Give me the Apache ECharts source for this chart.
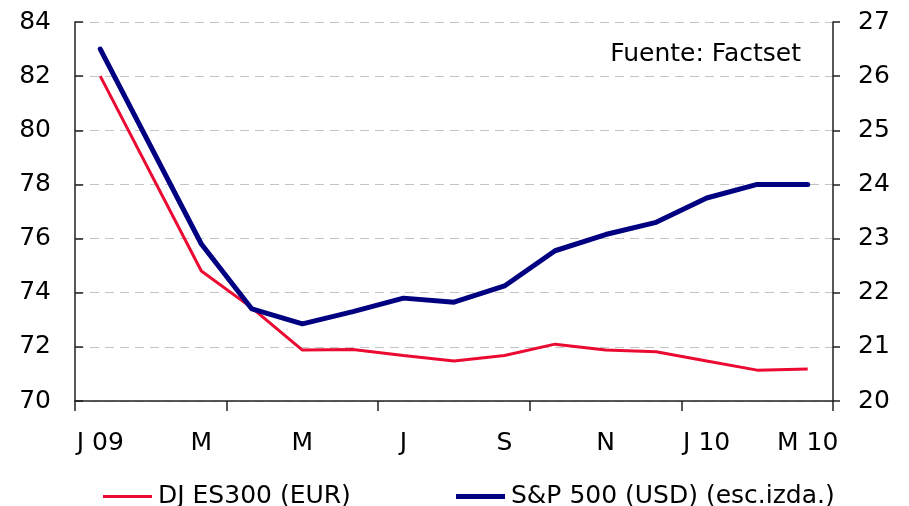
<!DOCTYPE html>
<html lang="es">
<head>
<meta charset="UTF-8">
<title>DJ ES300 vs S&amp;P 500</title>
<script src="https://cdn.jsdelivr.net/npm/echarts@6/dist/echarts.min.js"></script>
<style>
  html, body { margin: 0; padding: 0; background: #fff; }
  #chart { width: 909px; height: 506px; }
</style>
</head>
<body>
<div id="chart"></div>
<script>
// meses ene-09 .. mar-10
var months = ['2009-01','2009-02','2009-03','2009-04','2009-05','2009-06','2009-07','2009-08',
              '2009-09','2009-10','2009-11','2009-12','2010-01','2010-02','2010-03'];
var monthLabels = ['J 09','','M','','M','','J','','S','','N','','J 10','','M 10'];

// S&P 500 (USD) - escala izquierda
var sp500 = [83.0, null, 75.8, 73.4, 72.85, 73.3, 73.8, 73.65, 74.25, 75.55, 76.15, 76.6, 77.5, 78.0, 78.0];
// DJ ES300 (EUR) - escala derecha
var djes300 = [26.0, null, 22.4, 21.72, 20.94, 20.95, 20.84, 20.74, 20.84, 21.05, 20.94, 20.91, 20.74, 20.57, 20.59];

var leftTicks = { min: 70, max: 84, interval: 2 };
var rightTicks = { min: 20, max: 27, interval: 1 };

var FONT = 'DejaVu Sans';
var RED = '#ea0a32', NAVY = '#000080';
var chart = echarts.init(document.getElementById('chart'));

var option = {
  animation: false,
  textStyle: { fontFamily: FONT },
  grid: { left: 75, right: 76, top: 22, bottom: 105, containLabel: false },
  legend: [
    {
      data: ['DJ ES300 (EUR)'],
      left: 98, top: 479,
      icon: 'rect', itemWidth: 49, itemHeight: 3,
      textStyle: { fontFamily: FONT, fontSize: 25, color: '#000', padding: [0, 0, 0, 1] }
    },
    {
      data: ['S&P 500 (USD) (esc.izda.)'],
      left: 451, top: 479,
      icon: 'rect', itemWidth: 49, itemHeight: 5,
      textStyle: { fontFamily: FONT, fontSize: 25, color: '#000', padding: [0, 0, 0, 1] }
    }
  ],
  graphic: [{
    type: 'text',
    right: 108, top: 42,
    style: { text: 'Fuente: Factset', font: '25px "DejaVu Sans"', fill: '#000' }
  }],
  xAxis: {
    type: 'category',
    data: months,
    boundaryGap: true,
    axisLine: { lineStyle: { color: '#222', width: 1.5 } },
    axisTick: { show: true, interval: 2, length: 10, lineStyle: { color: '#222', width: 1.5 } },
    axisLabel: {
      interval: 1, margin: 30, fontSize: 25, color: '#000', fontFamily: FONT,
      formatter: function (v, i) { return monthLabels[i]; }
    },
    splitLine: { show: false }
  },
  yAxis: [
    {
      type: 'value',
      min: leftTicks.min, max: leftTicks.max, interval: leftTicks.interval,
      axisLine: { show: true, lineStyle: { color: '#222', width: 1.5 } },
      axisTick: { show: true, inside: true, length: 8, lineStyle: { color: '#222', width: 1.5 } },
      axisLabel: { margin: 24, fontSize: 25, color: '#000', fontFamily: FONT },
      splitLine: { show: true, lineStyle: { color: '#c4c4c4', type: [9, 6], width: 1.2 } }
    },
    {
      type: 'value',
      min: rightTicks.min, max: rightTicks.max, interval: rightTicks.interval,
      position: 'right',
      axisLine: { show: true, lineStyle: { color: '#222', width: 1.5 } },
      axisTick: { show: true, length: 7, lineStyle: { color: '#222', width: 1.5 } },
      axisLabel: { margin: 25, fontSize: 25, color: '#000', fontFamily: FONT },
      splitLine: { show: false }
    }
  ],
  series: [
    {
      name: 'DJ ES300 (EUR)',
      type: 'line',
      yAxisIndex: 1,
      data: djes300,
      connectNulls: true,
      symbol: 'none',
      lineStyle: { color: RED, width: 3 },
      itemStyle: { color: RED }
    },
    {
      name: 'S&P 500 (USD) (esc.izda.)',
      type: 'line',
      yAxisIndex: 0,
      data: sp500,
      connectNulls: true,
      symbol: 'none',
      lineStyle: { color: NAVY, width: 5, cap: 'round', join: 'round' },
      itemStyle: { color: NAVY }
    }
  ]
};

chart.setOption(option);
</script>
</body>
</html>
